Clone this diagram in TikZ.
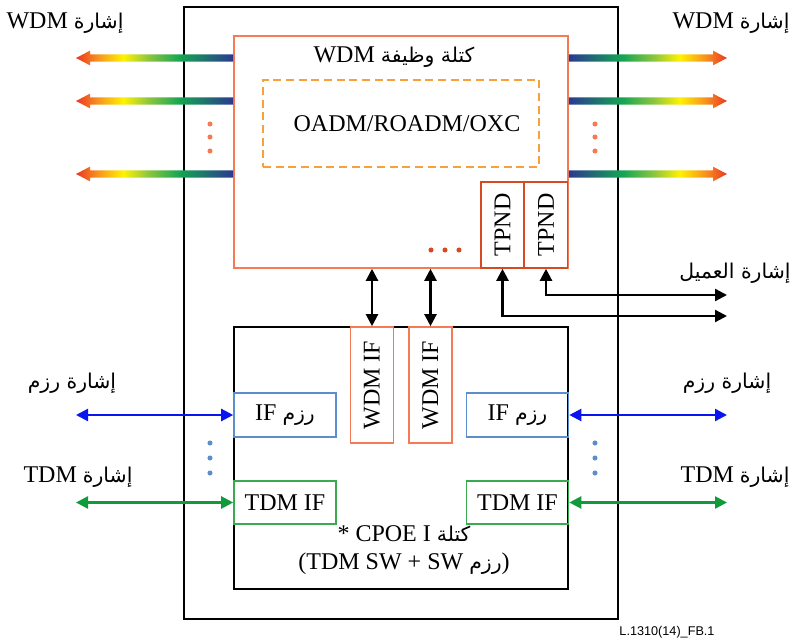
\documentclass[tikz,border=0pt]{standalone}
\usepackage{fontspec}
\setmainfont{Liberation Serif}
\newfontfamily\arabicfont[Script=Arabic,Scale=0.85]{DejaVu Sans}
\newfontfamily\notefont{Liberation Sans}
\TeXXeTstate=1
\usetikzlibrary{arrows.meta, calc, positioning}
\definecolor{coral}{HTML}{F47B55}
\definecolor{laranja}{HTML}{F7A03C}
\definecolor{vermelho}{HTML}{D54A22}
\definecolor{azulif}{HTML}{5B8FCC}
\definecolor{verdeif}{HTML}{3AAA4E}
\definecolor{azulsinal}{HTML}{0A14F0}
\definecolor{verdesinal}{HTML}{119A3A}
\definecolor{sigrot}{HTML}{EE3524}
\definecolor{siglaranja}{HTML}{F7941D}
\definecolor{sigamarelo}{HTML}{FFF200}
\definecolor{sigverdeclaro}{HTML}{8DC63F}
\definecolor{sigverde}{HTML}{13A652}
\definecolor{sigazul}{HTML}{2B3990}
\pgfdeclarehorizontalshading{wdmesq}{100bp}{color(0bp)=(sigrot); color(25bp)=(sigrot);
  color(32bp)=(siglaranja); color(40bp)=(sigamarelo); color(48bp)=(sigverdeclaro);
  color(58bp)=(sigverde); color(75bp)=(sigazul); color(100bp)=(sigazul)}
\pgfdeclarehorizontalshading{wdmdir}{100bp}{color(0bp)=(sigazul); color(25bp)=(sigazul);
  color(42bp)=(sigverde); color(52bp)=(sigverdeclaro); color(60bp)=(sigamarelo);
  color(68bp)=(siglaranja); color(75bp)=(sigrot); color(100bp)=(sigrot)}
% seta colorida: #1 origem, #2 ponta, #3 sombreamento, #4 sentido (1 ou -1)
\newcommand{\setawdm}[4]{%
  \shade[shading=#3] let \p1=(#1), \p2=(#2), \n1={(#4)*10.5pt} in
    (\x1,{\y1+2.7pt}) -- ({\x2-\n1},{\y1+2.7pt}) -- ({\x2-\n1},{\y1+5.5pt}) -- (\x2,\y1)
    -- ({\x2-\n1},{\y1-5.5pt}) -- ({\x2-\n1},{\y1-2.7pt}) -- (\x1,{\y1-2.7pt}) -- cycle;}

\begin{document}
\begin{tikzpicture}[x=0.75pt, y=-0.75pt, font=\fontsize{18}{21}\selectfont,
    caixa/.style={draw, line width=1.2pt, inner sep=0pt},
    bloco/.style={draw=coral, line width=1.2pt, inner sep=0pt},
    tracejado/.style={draw=laranja, dash pattern=on 6pt off 3.5pt, line width=1.3pt, inner sep=0pt},
    tpnd/.style={draw=vermelho, line width=1.2pt, minimum width=32.5pt, minimum height=64.5pt, inner sep=0pt},
    ifwdm/.style={draw=coral, line width=1.2pt, minimum width=32pt, minimum height=87pt, inner sep=0pt},
    ifpacote/.style={draw=azulif, line width=1.2pt, minimum width=76.5pt, minimum height=33pt, inner sep=0pt},
    iftdm/.style={draw=verdeif, line width=1.2pt, minimum width=76.5pt, minimum height=32.5pt, inner sep=0pt},
    setadupla/.style={{Triangle[length=9pt,width=9pt]}-{Triangle[length=9pt,width=9pt]}, line width=1.7pt},
    setaazul/.style={setadupla, azulsinal},
    setaverde/.style={setadupla, verdesinal}
]
    \useasboundingbox (0,0) rectangle (792,641);

    \node[caixa, minimum width=325.5pt, minimum height=459pt] (equip) at (401,313) {};

    % bloco WDM
    \node[bloco, minimum width=250.5pt, minimum height=174pt] (wdm) at (401,152) {};
    \node (titulo) at (394,57) {\beginR{\arabicfont كتلة وظيفة} WDM\endR};
    \node[tracejado, minimum width=207pt, minimum height=65.25pt] (oadm) at (401,123.5) {};
    \node (oxc) at (407,124) {OADM/ROADM/OXC};
    \node[tpnd] (tpnda) at (502.5,225) {\rotatebox{90}{TPND}};
    \node[tpnd] (tpndb) at (546,225) {\rotatebox{90}{TPND}};
    \foreach \xx in {431,445,459} \fill[vermelho] (\xx,250) circle (1.9pt);

    % bloco CPOE
    \node[caixa, minimum width=250.5pt, minimum height=196.5pt] (cpoe) at (401,458) {};
    \node[ifwdm] (ifwdma) at (372,385) {\rotatebox{90}{WDM IF}};
    \node[ifwdm] (ifwdmb) at (430.5,385) {\rotatebox{90}{WDM IF}};
    \node[ifpacote] (pacesq) at (285,415) {\beginR{\arabicfont رزم} IF\endR};
    \node[ifpacote] (pacdir) at (517.5,415) {\beginR{\arabicfont رزم} IF\endR};
    \node[iftdm] (tdmesq) at (285,502.5) {TDM IF};
    \node[iftdm] (tdmdir) at (517.5,502.5) {TDM IF};
    \node[align=center] (rotcpoe) at (404,550)
        {\beginR{\arabicfont كتلة} \beginL CPOE I\endL{} *\endR\\
         \beginR){\arabicfont رزم} SW + \beginL TDM SW\endL(\endR};

    % sinais WDM
    \coordinate (wl1) at (76,58);
    \coordinate (wl2) at (76,101);
    \coordinate (wl3) at (76,174);
    \coordinate (wr1) at (727,58);
    \coordinate (wr2) at (727,101);
    \coordinate (wr3) at (727,174);
    \setawdm{wdm.west |- wl1}{wl1}{wdmesq}{-1}
    \setawdm{wdm.west |- wl2}{wl2}{wdmesq}{-1}
    \setawdm{wdm.west |- wl3}{wl3}{wdmesq}{-1}
    \setawdm{wdm.east |- wr1}{wr1}{wdmdir}{1}
    \setawdm{wdm.east |- wr2}{wr2}{wdmdir}{1}
    \setawdm{wdm.east |- wr3}{wr3}{wdmdir}{1}
    \foreach \yy in {124,137,151} {
        \fill[coral] (210,\yy) circle (1.9pt);
        \fill[coral] (595,\yy) circle (1.9pt);
    }
    \node (wdmesqrot) at (65,23) {\beginR{\arabicfont إشارة} WDM\endR};
    \node (wdmdirrot) at (731,23) {\beginR{\arabicfont إشارة} WDM\endR};

    % ligacoes WDM IF
    \draw[setadupla] (ifwdma.north) -- (ifwdma.north |- wdm.south);
    \draw[setadupla] (ifwdmb.north) -- (ifwdmb.north |- wdm.south);

    % sinais do cliente
    \coordinate (cliente1) at (727,316);
    \coordinate (cliente2) at (727,295);
    \draw[setadupla] (tpnda.south) |- (cliente1);
    \draw[setadupla] (tpndb.south) |- (cliente2);
    \node (clienterot) at (735,273) {\beginR\arabicfont إشارة العميل\endR};

    % sinais de pacote e TDM
    \coordinate (pontaesq) at (76,0);
    \coordinate (pontadir) at (727,0);
    \draw[setaazul] (pacesq.west) -- (pacesq.west -| pontaesq);
    \draw[setaazul] (pacdir.east) -- (pacdir.east -| pontadir);
    \draw[setaverde] (tdmesq.west) -- (tdmesq.west -| pontaesq);
    \draw[setaverde] (tdmdir.east) -- (tdmdir.east -| pontadir);
    \foreach \yy in {443,458,473} {
        \fill[azulif] (210,\yy) circle (1.9pt);
        \fill[azulif] (595,\yy) circle (1.9pt);
    }
    \node (pacesqrot) at (72,383) {\beginR\arabicfont إشارة رزم\endR};
    \node (pacdirrot) at (727,383) {\beginR\arabicfont إشارة رزم\endR};
    \node (tdmesqrot) at (78,477) {\beginR{\arabicfont إشارة} TDM\endR};
    \node (tdmdirrot) at (735,477) {\beginR{\arabicfont إشارة} TDM\endR};

    \node[font=\notefont\fontsize{9.5}{11}\selectfont] (figref) at (667,632) {L.1310(14)\_FB.1};
\end{tikzpicture}
\end{document}
